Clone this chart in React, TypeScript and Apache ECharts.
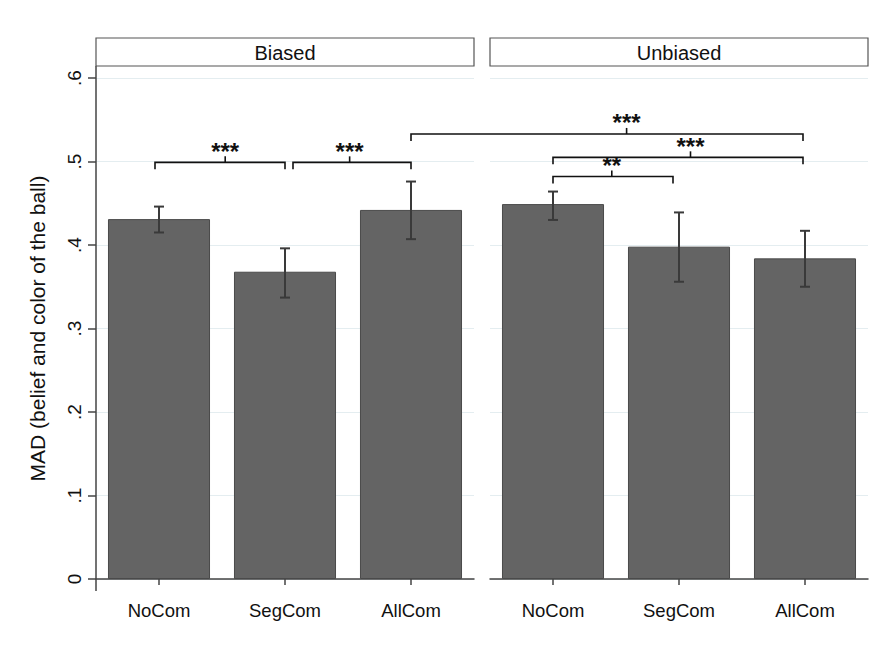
import React, { useEffect, useRef } from 'react';
import * as echarts from 'echarts';

const panels = ['Biased', 'Unbiased'];
const categories = ['NoCom', 'SegCom', 'AllCom'];
const biasedMean = [0.431, 0.368, 0.442];
const biasedLow = [0.415, 0.337, 0.407];
const biasedHigh = [0.446, 0.396, 0.476];
const unbiasedMean = [0.449, 0.398, 0.384];
const unbiasedLow = [0.430, 0.356, 0.350];
const unbiasedHigh = [0.464, 0.439, 0.417];
const yTickLabels = ['0', '.1', '.2', '.3', '.4', '.5', '.6'];
const yAxisTitle = 'MAD (belief and color of the ball)';

// significance brackets
const bracketStartPanel = [0, 0, 0, 1, 1];
const bracketStartCat = ['NoCom', 'SegCom', 'AllCom', 'NoCom', 'NoCom'];
const bracketEndPanel = [0, 0, 1, 1, 1];
const bracketEndCat = ['SegCom', 'AllCom', 'AllCom', 'AllCom', 'SegCom'];
const bracketLevel = [0.499, 0.499, 0.533, 0.505, 0.482];
const bracketStars = ['***', '***', '***', '***', '**'];

const means = [biasedMean, unbiasedMean];
const lows = [biasedLow, unbiasedLow];
const highs = [biasedHigh, unbiasedHigh];

// layout / style constants
const FONT = "'Liberation Sans', Arial, Helvetica, sans-serif";
const GRID_LEFT = [96, 490];
const GRID_W = 378;
const GRID_TOP = 78;
const GRID_H = 501;
const AXIS_COLOR = '#444';
const TEXT_COLOR = '#111';
const BRACKET_START_NUDGE = [-4, 8, 0, 0, 0];
const BRACKET_END_NUDGE = [0, 0, -2, -2, -6];
const BRACKET_TICK_FRAC = [0.54, 0.48, 0.55, 0.55, 0.49];

export default function App() {
  const ref = useRef<HTMLDivElement>(null);
  useEffect(() => {
    if (!ref.current) return;
    const chart = echarts.init(ref.current, undefined, { renderer: 'svg' });
    const option: any = {
      animation: false,
      backgroundColor: '#fff',
      textStyle: { fontFamily: FONT },
      grid: panels.map((_, i) => ({ left: GRID_LEFT[i], top: GRID_TOP, width: GRID_W, height: GRID_H })),
      xAxis: panels.map((_, i) => ({
        type: 'category',
        gridIndex: i,
        data: categories,
        offset: 12,
        axisLine: { show: true, lineStyle: { color: AXIS_COLOR, width: 1.5 } },
        axisTick: { show: true, alignWithLabel: true, length: 6, lineStyle: { color: AXIS_COLOR, width: 1.5 } },
        axisLabel: { fontSize: 18.5, color: TEXT_COLOR, margin: 10, fontFamily: FONT },
        splitLine: { show: false },
      })),
      yAxis: panels.map((_, i) => ({
        type: 'value',
        gridIndex: i,
        min: 0,
        max: 0.6,
        interval: 0.1,
        axisLine: { show: false },
        axisTick: { show: i === 0, length: 8, lineStyle: { color: AXIS_COLOR, width: 1.5 } },
        axisLabel: {
          show: i === 0,
          rotate: 90,
          margin: 12,
          fontSize: 19,
          color: TEXT_COLOR,
          fontFamily: FONT,
          formatter: (v: number) => yTickLabels[Math.round(v * 10)],
        },
        splitLine: { show: true, lineStyle: { color: '#e4edf0', width: 1 } },
        name: i === 0 ? yAxisTitle : '',
        nameLocation: 'middle',
        nameGap: 48,
        nameRotate: 90,
        nameTextStyle: { fontSize: 21, color: TEXT_COLOR, fontFamily: FONT },
      })),
      series: [
        ...panels.map((_, i) => ({
          type: 'bar',
          xAxisIndex: i,
          yAxisIndex: i,
          data: means[i],
          barCategoryGap: '19%',
          itemStyle: { color: '#646464', borderColor: '#4a4a4a', borderWidth: 1 },
        })),
        ...panels.map((_, i) => ({
          type: 'custom',
          xAxisIndex: i,
          yAxisIndex: i,
          z: 10,
          data: categories.map((_, j) => [j, lows[i][j], highs[i][j]]),
          encode: { x: 0, y: [1, 2] },
          renderItem: (params: any, api: any) => {
            const lo = api.coord([api.value(0), api.value(1)]);
            const hi = api.coord([api.value(0), api.value(2)]);
            const w = 5;
            const st = { stroke: '#3a3a3a', lineWidth: 2 };
            return {
              type: 'group',
              children: [
                { type: 'line', shape: { x1: lo[0], y1: lo[1], x2: hi[0], y2: hi[1] }, style: st },
                { type: 'line', shape: { x1: lo[0] - w, y1: lo[1], x2: lo[0] + w, y2: lo[1] }, style: st },
                { type: 'line', shape: { x1: hi[0] - w, y1: hi[1], x2: hi[0] + w, y2: hi[1] }, style: st },
              ],
            };
          },
        })),
      ],
    };
    chart.setOption(option);

    const graphics: any[] = [];
    graphics.push({
      type: 'line',
      shape: { x1: GRID_LEFT[0], y1: GRID_TOP - 12, x2: GRID_LEFT[0], y2: GRID_TOP + GRID_H + 12 },
      style: { stroke: AXIS_COLOR, lineWidth: 1.5 },
      z: 20,
    });
    panels.forEach((p, i) => {
      graphics.push({
        type: 'rect',
        shape: { x: GRID_LEFT[i], y: 38, width: GRID_W, height: 28 },
        style: { fill: '#fff', stroke: '#555', lineWidth: 1.2 },
        z: 20,
      });
      graphics.push({
        type: 'text',
        x: GRID_LEFT[i] + GRID_W / 2,
        y: 52.5,
        style: { text: p, fontSize: 20, fill: TEXT_COLOR, fontFamily: FONT, align: 'center', verticalAlign: 'middle' },
        z: 21,
      });
    });
    bracketStars.forEach((stars, k) => {
      const xs = chart.convertToPixel({ xAxisIndex: bracketStartPanel[k] } as any, categories.indexOf(bracketStartCat[k])) as number;
      const xe = chart.convertToPixel({ xAxisIndex: bracketEndPanel[k] } as any, categories.indexOf(bracketEndCat[k])) as number;
      const y = chart.convertToPixel({ yAxisIndex: bracketStartPanel[k] } as any, bracketLevel[k]) as number;
      const x1 = xs + BRACKET_START_NUDGE[k];
      const x2 = xe + BRACKET_END_NUDGE[k];
      const xm = x1 + (x2 - x1) * BRACKET_TICK_FRAC[k];
      graphics.push({
        type: 'polyline',
        shape: { points: [[x1, y + 7], [x1, y], [x2, y], [x2, y + 7]] },
        style: { stroke: '#111', lineWidth: 1.6, fill: 'none' },
        z: 30,
      });
      graphics.push({
        type: 'line',
        shape: { x1: xm, y1: y, x2: xm, y2: y - 6 },
        style: { stroke: '#111', lineWidth: 1.6 },
        z: 30,
      });
      graphics.push({
        type: 'text',
        x: xm,
        y: y - 11,
        style: { text: stars, fontSize: 24, fontWeight: 'bold', fill: '#111', fontFamily: FONT, align: 'center', verticalAlign: 'middle' },
        z: 30,
      });
    });
    chart.setOption({ graphic: graphics });

    return () => chart.dispose();
  }, []);
  return <div ref={ref} style={{ position: 'fixed', left: 0, top: 0, width: 885, height: 649 }} />;
}
